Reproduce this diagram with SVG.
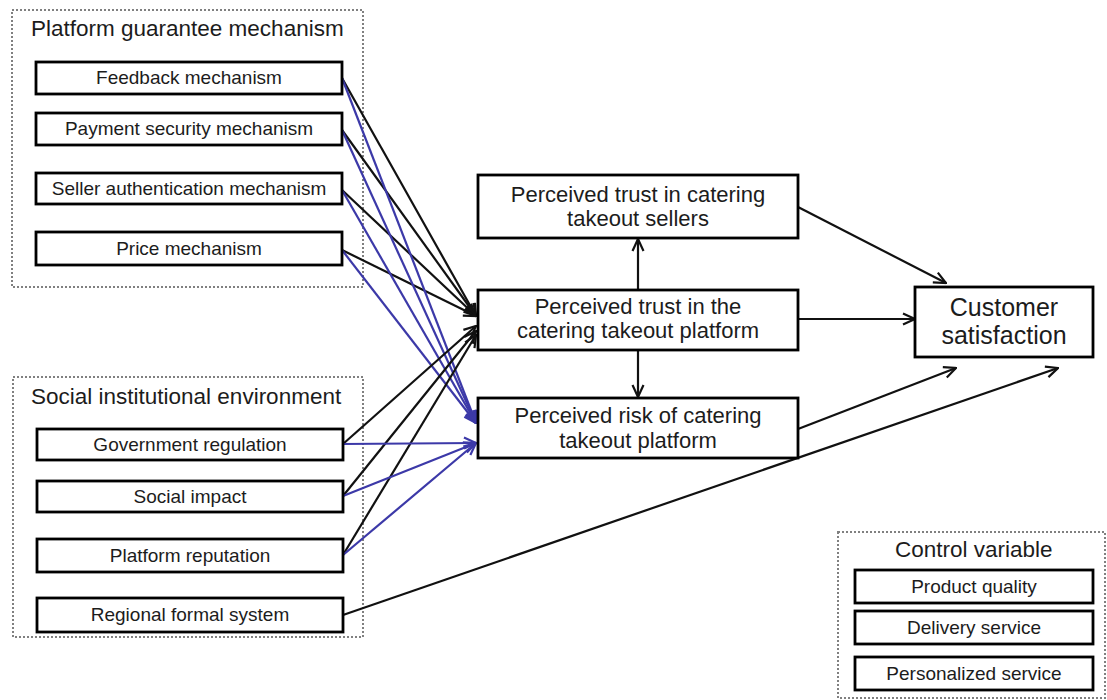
<svg xmlns="http://www.w3.org/2000/svg" width="1107" height="700" viewBox="0 0 1107 700">
  <style>
    .frame { fill: none; stroke: #808080; stroke-width: 2; stroke-dasharray: 2 2; }
    .box { fill: #fff; stroke: #000; stroke-width: 2.8; }
    .lbl { font-family: "Liberation Sans", Arial, sans-serif; fill: #1c1c1c; text-anchor: middle; }
    .small { font-size: 19px; }
    .title { font-size: 22.5px; text-anchor: start; }
    .mid { font-size: 22px; }
    .big { font-size: 25px; }
    .blk { stroke: #111; stroke-width: 2.2; fill: none; }
    .blu { stroke: #3c39a8; stroke-width: 2.2; fill: none; }
  </style>
  <defs>
    <marker id="ahBlack" viewBox="0 0 14 14" refX="13" refY="7" markerWidth="14" markerHeight="14" markerUnits="userSpaceOnUse" orient="auto">
      <path d="M1,1.5 L13,7 L1,12.5" fill="none" stroke="#111" stroke-width="2.2"/>
    </marker>
    <marker id="ahBlue" viewBox="0 0 14 14" refX="13" refY="7" markerWidth="14" markerHeight="14" markerUnits="userSpaceOnUse" orient="auto">
      <path d="M1,1.5 L13,7 L1,12.5" fill="none" stroke="#3c39a8" stroke-width="2.2"/>
    </marker>
  </defs>
  <rect width="1107" height="700" fill="#fff"/>

  <!-- group frames -->
  <g id="platform-guarantee">
    <rect class="frame" x="12" y="10" width="351" height="277"/>
    <text class="lbl title" x="31" y="36">Platform guarantee mechanism</text>
  </g>
  <g id="social-environment">
    <rect class="frame" x="13" y="377" width="350" height="260"/>
    <text class="lbl title" x="31" y="404">Social institutional environment</text>
  </g>
  <g id="control-variable">
    <rect class="frame" x="838" y="532" width="267" height="166"/>
    <text class="lbl title" x="895" y="557">Control variable</text>
  </g>

  <!-- connectors -->
  <g id="connectors">
    <!-- platform mechanisms to trust in platform -->
    <line class="blk" x1="342" y1="78" x2="476" y2="316" marker-end="url(#ahBlack)"/>
    <line class="blk" x1="342" y1="130" x2="476" y2="316" marker-end="url(#ahBlack)"/>
    <line class="blk" x1="342" y1="190" x2="476" y2="316" marker-end="url(#ahBlack)"/>
    <line class="blk" x1="342" y1="250" x2="476" y2="316" marker-end="url(#ahBlack)"/>
    <!-- platform mechanisms to perceived risk -->
    <line class="blu" x1="342" y1="78" x2="476" y2="423" marker-end="url(#ahBlue)"/>
    <line class="blu" x1="342" y1="130" x2="476" y2="423" marker-end="url(#ahBlue)"/>
    <line class="blu" x1="342" y1="190" x2="476" y2="423" marker-end="url(#ahBlue)"/>
    <line class="blu" x1="342" y1="250" x2="476" y2="423" marker-end="url(#ahBlue)"/>
    <!-- social environment to trust in platform -->
    <line class="blk" x1="343" y1="444" x2="476" y2="326" marker-end="url(#ahBlack)"/>
    <line class="blk" x1="343" y1="496" x2="476" y2="331" marker-end="url(#ahBlack)"/>
    <line class="blk" x1="343" y1="555" x2="476" y2="335" marker-end="url(#ahBlack)"/>
    <!-- social environment to perceived risk -->
    <line class="blu" x1="343" y1="444" x2="476" y2="443" marker-end="url(#ahBlue)"/>
    <line class="blu" x1="343" y1="496" x2="476" y2="443" marker-end="url(#ahBlue)"/>
    <line class="blu" x1="343" y1="555" x2="476" y2="443" marker-end="url(#ahBlue)"/>
    <!-- regional formal system to satisfaction -->
    <line class="blk" x1="343" y1="615" x2="1058" y2="368" marker-end="url(#ahBlack)"/>
    <!-- mediators -->
    <line class="blk" x1="638" y1="290" x2="638" y2="239" marker-end="url(#ahBlack)"/>
    <line class="blk" x1="638" y1="350" x2="638" y2="397" marker-end="url(#ahBlack)"/>
    <line class="blk" x1="798" y1="207" x2="946" y2="283" marker-end="url(#ahBlack)"/>
    <line class="blk" x1="798" y1="319" x2="915" y2="319" marker-end="url(#ahBlack)"/>
    <line class="blk" x1="798" y1="429" x2="956" y2="368" marker-end="url(#ahBlack)"/>
  </g>

  <!-- platform guarantee mechanism nodes -->
  <g id="feedback">
    <rect class="box" x="36" y="62" width="306" height="32"/>
    <text class="lbl small" x="189" y="84">Feedback mechanism</text>
  </g>
  <g id="payment-security">
    <rect class="box" x="36" y="113" width="306" height="32"/>
    <text class="lbl small" x="189" y="135">Payment security mechanism</text>
  </g>
  <g id="seller-authentication">
    <rect class="box" x="36" y="173" width="306" height="31"/>
    <text class="lbl small" x="189" y="195">Seller authentication mechanism</text>
  </g>
  <g id="price">
    <rect class="box" x="36" y="232" width="306" height="33"/>
    <text class="lbl small" x="189" y="255">Price mechanism</text>
  </g>

  <!-- social institutional environment nodes -->
  <g id="government-regulation">
    <rect class="box" x="37" y="429" width="306" height="31"/>
    <text class="lbl small" x="190" y="451">Government regulation</text>
  </g>
  <g id="social-impact">
    <rect class="box" x="37" y="481" width="306" height="31"/>
    <text class="lbl small" x="190" y="503">Social impact</text>
  </g>
  <g id="platform-reputation">
    <rect class="box" x="37" y="539" width="306" height="33"/>
    <text class="lbl small" x="190" y="562">Platform reputation</text>
  </g>
  <g id="regional-formal-system">
    <rect class="box" x="37" y="598" width="306" height="34"/>
    <text class="lbl small" x="190" y="621">Regional formal system</text>
  </g>

  <!-- mediators -->
  <g id="trust-sellers">
    <rect class="box" x="478" y="175" width="320" height="63"/>
    <text class="lbl mid" x="638" y="202">Perceived trust in catering</text>
    <text class="lbl mid" x="638" y="226">takeout sellers</text>
  </g>
  <g id="trust-platform">
    <rect class="box" x="478" y="290" width="320" height="60"/>
    <text class="lbl mid" x="638" y="314">Perceived trust in the</text>
    <text class="lbl mid" x="638" y="338">catering takeout platform</text>
  </g>
  <g id="perceived-risk">
    <rect class="box" x="478" y="398" width="320" height="60"/>
    <text class="lbl mid" x="638" y="423">Perceived risk of catering</text>
    <text class="lbl mid" x="638" y="448">takeout platform</text>
  </g>

  <!-- outcome -->
  <g id="customer-satisfaction">
    <rect class="box" x="915" y="287" width="178" height="70"/>
    <text class="lbl big" x="1004" y="316">Customer</text>
    <text class="lbl big" x="1004" y="344">satisfaction</text>
  </g>

  <!-- control variables -->
  <g id="product-quality">
    <rect class="box" x="855" y="570" width="238" height="33"/>
    <text class="lbl small" x="974" y="593">Product quality</text>
  </g>
  <g id="delivery-service">
    <rect class="box" x="855" y="611" width="238" height="33"/>
    <text class="lbl small" x="974" y="634">Delivery service</text>
  </g>
  <g id="personalized-service">
    <rect class="box" x="855" y="657" width="238" height="33"/>
    <text class="lbl small" x="974" y="680">Personalized service</text>
  </g>
</svg>
